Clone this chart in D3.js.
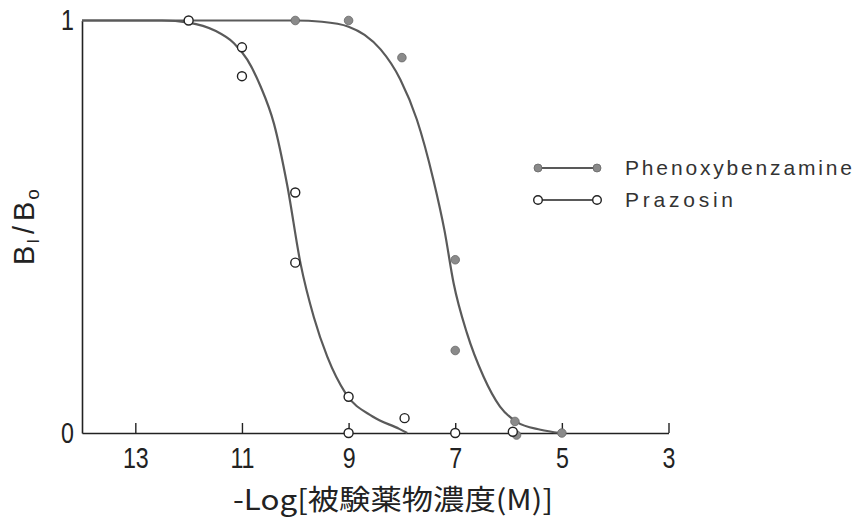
<!DOCTYPE html>
<html>
<head>
<meta charset="utf-8">
<script src="https://cdn.jsdelivr.net/npm/d3@7"></script>
<style>
  body { margin: 0; background: #fff; }
  svg { display: block; }
</style>
</head>
<body>
<svg id="chart" width="857" height="519"></svg>
<script>
// Data
var xTicks = [13, 11, 9, 7, 5, 3];
var yTicks = [0, 1];
var seriesNames = ["Phenoxybenzamine", "Prazosin"];

// measured points
var phenoxyX = [10, 9, 8, 7, 7, 5.88, 5.85, 5];
var phenoxyY = [1, 1, 0.91, 0.42, 0.2, 0.028, -0.005, 0];
var prazosinX = [12, 11, 11, 10, 10, 9, 9, 7.95, 7, 5.92];
var prazosinY = [1, 0.935, 0.865, 0.583, 0.413, 0.088, 0, 0.036, 0, 0.003];

// hand drawn fitted curves (traced)
var phenoxyCurveX = [14, 10, 9.5, 9, 8.7, 8.4, 8.03, 7.72, 7.41, 7.2, 7.03, 6.78, 6.47, 6.16, 5.85, 5.4, 5.03];
var phenoxyCurveY = [1, 1, 0.997, 0.985, 0.965, 0.93, 0.857, 0.76, 0.614, 0.49, 0.363, 0.242, 0.137, 0.064, 0.027, 0.008, 0];
var prazosinCurveX = [14, 12.5, 12, 11.5, 11.15, 10.9, 10.65, 10.4, 10.15, 9.9, 9.65, 9.4, 9.05, 8.55, 8.05, 7.9];
var prazosinCurveY = [1, 1, 0.995, 0.975, 0.945, 0.905, 0.84, 0.75, 0.6, 0.41, 0.28, 0.185, 0.095, 0.04, 0.01, 0];

var svg = d3.select("#chart");
var ink = "#222";
var lineGrey = "#5a5a5a";
var dotGrey = "#8a8a8a";

// Scales
var x = d3.scaleLinear().domain([14, 3]).range([82, 668.5]);
var y = d3.scaleLinear().domain([0, 1]).range([433, 20.5]);

function zip(xs, ys) {
  var out = [];
  for (var i = 0; i < xs.length; i++) out.push({x: xs[i], y: ys[i]});
  return out;
}

// Axes
var xAxis = d3.axisBottom(x).tickValues(xTicks).tickFormat(d3.format("d"))
  .tickSize(-10).tickSizeOuter(0).tickPadding(21);
var gx = svg.append("g")
  .attr("transform", "translate(0," + y(0) + ")")
  .call(xAxis);
gx.select(".domain").attr("stroke", ink).attr("stroke-width", 1.6);
gx.selectAll(".tick line").attr("stroke", ink).attr("stroke-width", 1.4);
gx.selectAll(".tick text")
  .attr("fill", ink)
  .style("font-family", "Liberation Sans, Arial, sans-serif")
  .style("font-size", "29px")
  .attr("dy", "0.5em")
  .attr("transform", "scale(0.8,1)");

var yAxis = d3.axisLeft(y).tickValues(yTicks).tickFormat(d3.format("d"))
  .tickSize(0).tickSizeOuter(0).tickPadding(10);
var gy = svg.append("g")
  .attr("transform", "translate(" + x(14) + ",0)")
  .call(yAxis);
gy.select(".domain").attr("stroke", ink).attr("stroke-width", 1.6);
gy.selectAll(".tick text")
  .attr("fill", ink)
  .style("font-family", "Liberation Sans, Arial, sans-serif")
  .style("font-size", "29px")
  .attr("transform", "scale(0.8,1)");

// Curves
var line = d3.line()
  .x(function(d) { return x(d.x); })
  .y(function(d) { return y(d.y); })
  .curve(d3.curveMonotoneX);

svg.append("path")
  .datum(zip(phenoxyCurveX, phenoxyCurveY))
  .attr("d", line)
  .attr("fill", "none")
  .attr("stroke", lineGrey)
  .attr("stroke-width", 2.2);

svg.append("path")
  .datum(zip(prazosinCurveX, prazosinCurveY))
  .attr("d", line)
  .attr("fill", "none")
  .attr("stroke", lineGrey)
  .attr("stroke-width", 2.2);

// Points
svg.append("g").selectAll("circle")
  .data(zip(phenoxyX, phenoxyY))
  .enter()
  .append("circle")
  .attr("cx", function(d) { return x(d.x); })
  .attr("cy", function(d) { return y(d.y); })
  .attr("r", 4.3)
  .attr("fill", dotGrey)
  .attr("stroke", "#666")
  .attr("stroke-width", 0.8);

svg.append("g").selectAll("circle")
  .data(zip(prazosinX, prazosinY))
  .enter()
  .append("circle")
  .attr("cx", function(d) { return x(d.x); })
  .attr("cy", function(d) { return y(d.y); })
  .attr("r", 4.5)
  .attr("fill", "#fff")
  .attr("stroke", ink)
  .attr("stroke-width", 1.4);

// Legend
var legend = svg.append("g");
var legendRows = [
  {name: seriesNames[0], y: 168, filled: true, textLen: 227},
  {name: seriesNames[1], y: 200, filled: false, textLen: 108}
];
legendRows.forEach(function(r) {
  legend.append("line")
    .attr("x1", 538).attr("x2", 597)
    .attr("y1", r.y).attr("y2", r.y)
    .attr("stroke", ink)
    .attr("stroke-width", 1.5);
  [538, 597].forEach(function(cx) {
    legend.append("circle")
      .attr("cx", cx).attr("cy", r.y)
      .attr("r", r.filled ? 4 : 4.3)
      .attr("fill", r.filled ? dotGrey : "#fff")
      .attr("stroke", r.filled ? "#666" : ink)
      .attr("stroke-width", r.filled ? 0.8 : 1.4);
  });
  legend.append("text")
    .attr("x", 625)
    .attr("y", r.y + 7)
    .attr("textLength", r.textLen)
    .attr("lengthAdjust", "spacing")
    .attr("fill", "#333")
    .style("font-family", "Liberation Sans, Arial, sans-serif")
    .style("font-size", "21px")
    .text(r.name);
});

// Axis titles
svg.append("text")
  .attr("x", 233)
  .attr("y", 510)
  .attr("textLength", 320)
  .attr("lengthAdjust", "spacingAndGlyphs")
  .attr("fill", ink)
  .style("font-family", "Noto Sans CJK JP, sans-serif")
  .style("font-size", "28px")
  .text("-Log[被験薬物濃度(M)]");

var yTitle = svg.append("text")
  .attr("transform", "translate(34,227) rotate(-90)")
  .attr("text-anchor", "middle")
  .attr("fill", ink)
  .style("font-family", "Liberation Sans, Arial, sans-serif")
  .style("font-size", "29px");
yTitle.append("tspan").text("B");
yTitle.append("tspan").attr("dx", 2).attr("dy", 5).style("font-size", "16px").text("I");
yTitle.append("tspan").attr("dx", 5).attr("dy", -5).text("/");
yTitle.append("tspan").attr("dx", 5).text("B");
yTitle.append("tspan").attr("dx", 2).attr("dy", 5).style("font-size", "19px").text("o");
</script>
</body>
</html>
